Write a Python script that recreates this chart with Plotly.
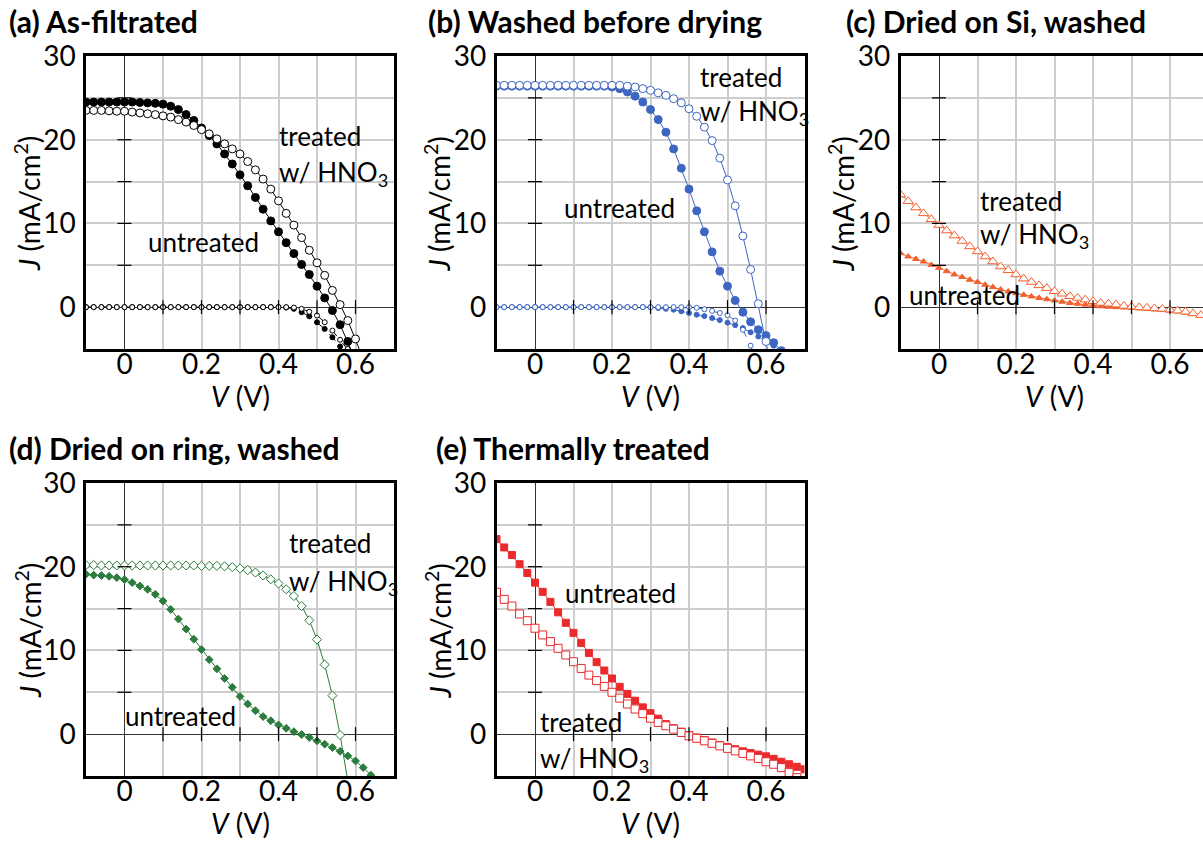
import plotly.graph_objects as go

# Bias voltage (V), 20 mV steps shared by every sweep
V = [-0.10, -0.08, -0.06, -0.04, -0.02, 0.00, 0.02, 0.04, 0.06, 0.08,
     0.10, 0.12, 0.14, 0.16, 0.18, 0.20, 0.22, 0.24, 0.26, 0.28,
     0.30, 0.32, 0.34, 0.36, 0.38, 0.40, 0.42, 0.44, 0.46, 0.48,
     0.50, 0.52, 0.54, 0.56, 0.58, 0.60, 0.62, 0.64, 0.66, 0.68, 0.70]

# (a) As-filtrated: current density J (mA/cm2)
a_untreated = [24.5, 24.5, 24.5, 24.5, 24.5, 24.5, 24.5, 24.45, 24.4, 24.35,
               24.25, 24.0, 23.6, 23.0, 22.3, 21.4, 20.5, 19.5, 18.3, 17.1,
               15.8, 14.5, 13.1, 11.7, 10.3, 9.0, 7.7, 6.4, 5.1, 3.9,
               2.5, 1.1, -0.4, -2.1, -4.1, -6.3]
a_treated = [23.5, 23.5, 23.5, 23.45, 23.4, 23.4, 23.3, 23.2, 23.1, 23.0,
             22.85, 22.7, 22.4, 22.1, 21.7, 21.2, 20.7, 20.1, 19.5, 18.9,
             18.3, 17.4, 16.4, 15.3, 14.1, 12.7, 11.2, 9.8, 8.3, 6.8,
             5.3, 3.8, 2.0, 0.3, -1.6, -3.8, -6.2]
a_untreated_dark = [0.0, 0.0, 0.0, 0.0, 0.0, 0.0, 0.0, 0.0, 0.0, 0.0,
                    0.0, 0.0, 0.0, 0.0, 0.0, 0.0, 0.0, 0.0, 0.0, 0.0,
                    0.0, 0.0, 0.0, 0.0, 0.0, 0.0, -0.05, -0.2, -0.6, -1.1,
                    -1.8, -2.6, -3.6, -4.7, -5.9]
a_treated_dark = [0.0, 0.0, 0.0, 0.0, 0.0, 0.0, 0.0, 0.0, 0.0, 0.0,
                  0.0, 0.0, 0.0, 0.0, 0.0, 0.0, 0.0, 0.0, 0.0, 0.0,
                  0.0, 0.0, 0.0, 0.0, 0.0, 0.0, 0.0, -0.05, -0.2, -0.55,
                  -1.0, -1.8, -2.8, -3.9, -5.0, -6.2]

# (b) Washed before drying
b_untreated = [26.4, 26.4, 26.4, 26.4, 26.4, 26.4, 26.4, 26.4, 26.4, 26.4,
               26.4, 26.4, 26.4, 26.4, 26.4, 26.3, 26.1, 25.7, 25.2, 24.5,
               23.6, 22.4, 20.9, 18.9, 16.6, 14.1, 11.5, 9.0, 6.6, 4.3,
               2.5, 0.8, -0.6, -1.75, -2.7, -3.4, -4.25, -5.2]
b_treated = [26.5, 26.5, 26.5, 26.5, 26.5, 26.5, 26.5, 26.5, 26.5, 26.5,
             26.5, 26.5, 26.5, 26.5, 26.5, 26.5, 26.5, 26.4, 26.3, 26.1,
             25.9, 25.6, 25.3, 24.9, 24.4, 23.7, 22.8, 21.5, 19.9, 17.8,
             15.2, 12.1, 8.5, 4.5, 0.4, -4.1, -8.6]
b_untreated_dark = [0.0, 0.0, 0.0, 0.0, 0.0, 0.0, 0.0, 0.0, 0.0, 0.0,
                    0.0, 0.0, 0.0, 0.0, 0.0, 0.0, 0.0, 0.0, 0.0, 0.0,
                    0.0, -0.1, -0.2, -0.3, -0.5, -0.7, -0.9, -1.07, -1.3, -1.55,
                    -1.85, -2.15, -2.5, -3.0, -3.5, -4.0, -4.6, -5.3]
b_treated_dark = [0.0, 0.0, 0.0, 0.0, 0.0, 0.0, 0.0, 0.0, 0.0, 0.0,
                  0.0, 0.0, 0.0, 0.0, 0.0, 0.0, 0.0, 0.0, 0.0, 0.0,
                  0.0, 0.0, 0.0, 0.0, 0.0, 0.0, -0.08, -0.25, -0.45, -0.7,
                  -0.95, -1.6, -2.7, -4.6, -7.0]

# (c) Dried on Si, washed
c_untreated = [6.45, 6.05, 5.75, 5.45, 5.05, 4.7, 4.3, 3.9, 3.6, 3.27,
               3.0, 2.67, 2.4, 2.1, 1.87, 1.67, 1.47, 1.28, 1.1, 0.95,
               0.8, 0.65, 0.5, 0.4, 0.3, 0.2, 0.1, 0.05, 0.0, -0.05,
               -0.1, -0.15, -0.2, -0.28, -0.35, -0.42, -0.52, -0.65, -0.8, -0.98,
               -1.15]
c_treated = [13.45, 12.65, 11.9, 11.2, 10.5, 9.8, 9.15, 8.55, 7.9, 7.25,
             6.65, 6.05, 5.45, 4.85, 4.4, 3.9, 3.4, 3.0, 2.6, 2.27,
             1.9, 1.6, 1.3, 1.1, 0.9, 0.7, 0.5, 0.4, 0.3, 0.15,
             0.05, -0.02, -0.08, -0.15, -0.22, -0.3, -0.42, -0.55, -0.75, -0.95,
             -1.15]

# (d) Dried on ring, washed
d_untreated = [19.1, 19.0, 18.95, 18.85, 18.7, 18.45, 18.1, 17.7, 17.3, 16.7,
               15.9, 14.9, 13.75, 12.55, 11.35, 10.1, 8.9, 7.8, 6.65, 5.6,
               4.5, 3.6, 2.8, 2.1, 1.6, 1.1, 0.7, 0.3, -0.05, -0.4,
               -0.8, -1.2, -1.6, -2.05, -2.6, -3.2, -4.0, -4.9]
d_treated = [20.2, 20.2, 20.15, 20.15, 20.15, 20.15, 20.15, 20.15, 20.15, 20.15,
             20.15, 20.15, 20.15, 20.15, 20.15, 20.1, 20.1, 20.1, 20.05, 19.95,
             19.8, 19.6, 19.3, 18.95, 18.5, 18.0, 17.3, 16.5, 15.3, 13.6,
             11.3, 8.3, 4.6, -0.1, -5.6]

# (e) Thermally treated
e_untreated = [23.3, 22.3, 21.4, 20.3, 19.25, 18.1, 17.0, 15.8, 14.55, 13.3,
               12.1, 10.9, 9.7, 8.6, 7.6, 6.65, 5.65, 4.8, 4.0, 3.2,
               2.5, 1.85, 1.2, 0.7, 0.3, -0.1, -0.4, -0.7, -1.0, -1.3,
               -1.55, -1.8, -2.05, -2.25, -2.45, -2.65, -2.95, -3.3, -3.6, -3.9,
               -4.2]
e_treated = [16.95, 16.1, 15.3, 14.35, 13.55, 12.65, 11.85, 11.05, 10.25, 9.45,
             8.65, 7.85, 7.05, 6.4, 5.7, 5.0, 4.3, 3.6, 3.0, 2.45,
             1.9, 1.4, 1.0, 0.6, 0.2, -0.2, -0.5, -0.8, -1.1, -1.4,
             -1.7, -2.0, -2.3, -2.6, -2.9, -3.3, -3.6, -4.0, -4.6, -5.2]

# Axis ticks: gridlines every 0.1 V / 5 mA cm-2, labels on every other one
x_ticks = [-0.1, 0.0, 0.1, 0.2, 0.3, 0.4, 0.5, 0.6, 0.7]
x_labels = ["", "0", "", "0.2", "", "0.4", "", "0.6", ""]
y_ticks = [-5, 0, 5, 10, 15, 20, 25, 30]
y_labels = ["", "0", "", "10", "", "20", "", "30"]
x_cross_ticks = [0.1, 0.2, 0.3, 0.4, 0.5, 0.6]
y_cross_ticks = [5, 10, 15, 20, 25]

W, H = 1203, 841
FONT = "Lato"
TICK_SIZE = 28
AXTITLE_SIZE = 28
HEAD_SIZE = 30
LABEL_SIZE = 26


def px_x(p):
    return p / W


def px_y(p):
    return 1 - p / H


panels = [
    dict(key="a", title="(a) As-filtrated", head_x=7, color="#000000", symbol="circle",
         left=86, top=56, xmax=0.7,
         series=[(a_untreated_dark, True, 5, "dash"), (a_treated_dark, False, 5, "dash"),
                 (a_untreated, True, 8, "solid"), (a_treated, False, 8, "solid")],
         labels=[("treated", 0.395, 20.5), ("w/ HNO<sub>3</sub>", 0.395, 16.0),
                 ("untreated", 0.057, 7.75)]),
    dict(key="b", title="(b) Washed before drying", head_x=426, color="#3D66C2",
         symbol="circle", left=496.5, top=56, xmax=0.7,
         series=[(b_untreated_dark, True, 5, "dash"), (b_treated_dark, False, 5, "dash"),
                 (b_untreated, True, 8, "solid"), (b_treated, False, 8, "solid")],
         labels=[("treated", 0.423, 27.5), ("w/ HNO<sub>3</sub>", 0.423, 23.2),
                 ("untreated", 0.07, 11.9)]),
    dict(key="c", title="(c) Dried on Si, washed", head_x=844, color="#F2622E",
         symbol="triangle-up", left=900.5, top=56, xmax=-0.1 + (W - 900.5) / 385.0,
         series=[(c_untreated, True, 6, "solid"), (c_treated, False, 9, "solid")],
         labels=[("treated", 0.101, 12.7), ("w/ HNO<sub>3</sub>", 0.101, 8.55),
                 ("untreated", -0.083, 1.4)]),
    dict(key="d", title="(d) Dried on ring, washed", head_x=7, color="#2B7C3D",
         symbol="diamond", left=86, top=483, xmax=0.7,
         series=[(d_untreated, True, 6, "solid"), (d_treated, False, 7, "solid")],
         labels=[("treated", 0.423, 22.8), ("w/ HNO<sub>3</sub>", 0.423, 18.1),
                 ("untreated", -0.005, 2.15)]),
    dict(key="e", title="(e) Thermally treated", head_x=434, color="#EA2A2C",
         symbol="square", left=496.5, top=483, xmax=0.7,
         series=[(e_untreated, True, 7, "solid"), (e_treated, False, 8, "solid")],
         labels=[("untreated", 0.073, 16.9), ("treated", 0.008, 1.4),
                 ("w/ HNO<sub>3</sub>", 0.008, -3.0)]),
]

PLOT_W, PLOT_H = 308, 293

fig = go.Figure()
layout = dict(width=W, height=H, margin=dict(l=0, r=0, t=0, b=0, pad=0),
              paper_bgcolor="white", plot_bgcolor="white",
              showlegend=False, font=dict(family=FONT, color="black"))
annotations = []
shapes = []

for i, p in enumerate(panels, start=1):
    xa = "x" if i == 1 else f"x{i}"
    ya = "y" if i == 1 else f"y{i}"
    left, top = p["left"], p["top"]
    right = min(left + PLOT_W, W)
    bottom = top + PLOT_H
    clipped = left + PLOT_W > W

    layout[f"xaxis{'' if i == 1 else i}"] = dict(
        domain=[px_x(left), px_x(right)], range=[-0.1, p["xmax"]], anchor=ya,
        automargin=False,
        tickvals=x_ticks, ticktext=x_labels, ticks="", ticklabelstandoff=-11,
        tickfont=dict(family=FONT, size=TICK_SIZE, color="black"),
        showgrid=True, gridcolor="#cdcdcd", gridwidth=2,
        zeroline=True, zerolinecolor="#333333", zerolinewidth=1,
        showline=True, linecolor="black", linewidth=2.5, mirror=True,
        fixedrange=True)
    layout[f"yaxis{'' if i == 1 else i}"] = dict(
        domain=[px_y(bottom), px_y(top)], range=[-5, 30], anchor=xa,
        automargin=False,
        tickvals=y_ticks, ticktext=y_labels, ticks="", ticklabelstandoff=2,
        tickfont=dict(family=FONT, size=TICK_SIZE, color="black"),
        showgrid=True, gridcolor="#cdcdcd", gridwidth=2,
        zeroline=True, zerolinecolor="#333333", zerolinewidth=1,
        showline=True, linecolor="black", linewidth=2.5,
        mirror=False if clipped else True,
        fixedrange=True)

    for J, filled, size, dash in p["series"]:
        fig.add_trace(go.Scatter(
            x=V[:len(J)], y=J, mode="lines+markers", xaxis=xa, yaxis=ya,
            line=dict(color=p["color"], width=1, dash=dash),
            marker=dict(symbol=p["symbol"], size=size,
                        color=p["color"] if filled else "white",
                        line=dict(color=p["color"], width=1)),
            cliponaxis=True, hoverinfo="skip"))

    # short crossing ticks on the V = 0 and J = 0 lines
    for yv in y_cross_ticks:
        shapes.append(dict(type="line", xref=xa, yref=ya, xsizemode="pixel", xanchor=0,
                           x0=-7, x1=7, y0=yv, y1=yv,
                           line=dict(color="black", width=1.2), layer="above"))
    for xv in x_cross_ticks:
        if xv <= p["xmax"]:
            shapes.append(dict(type="line", xref=xa, yref=ya, ysizemode="pixel", yanchor=0,
                               y0=-7, y1=7, x0=xv, x1=xv,
                               line=dict(color="black", width=1.2), layer="above"))

    # panel heading
    annotations.append(dict(text=f"<b>{p['title']}</b>", xref="paper", yref="paper",
                            x=px_x(p["head_x"]), y=px_y(top - 35),
                            xanchor="left", yanchor="middle", showarrow=False,
                            font=dict(family=FONT, size=HEAD_SIZE, color="black")))
    # axis titles
    annotations.append(dict(text="<i>V</i> (V)", xref="paper", yref="paper",
                            x=px_x(left + 154), y=px_y(bottom + 47),
                            xanchor="center", yanchor="middle", showarrow=False,
                            font=dict(family=FONT, size=AXTITLE_SIZE, color="black")))
    annotations.append(dict(text="<i>J</i> (mA/cm<sup>2</sup>)", xref="paper", yref="paper",
                            x=px_x(left - 58), y=px_y(top + 148), textangle=-90,
                            xanchor="center", yanchor="middle", showarrow=False,
                            font=dict(family=FONT, size=AXTITLE_SIZE, color="black")))
    # curve labels
    for txt, lx, ly in p["labels"]:
        annotations.append(dict(text=txt, xref=xa, yref=ya, x=lx, y=ly,
                                xanchor="left", yanchor="middle", showarrow=False,
                                font=dict(family=FONT, size=LABEL_SIZE, color="black")))

layout["annotations"] = annotations
layout["shapes"] = shapes
fig.update_layout(**layout)
fig.write_html("out.html")
